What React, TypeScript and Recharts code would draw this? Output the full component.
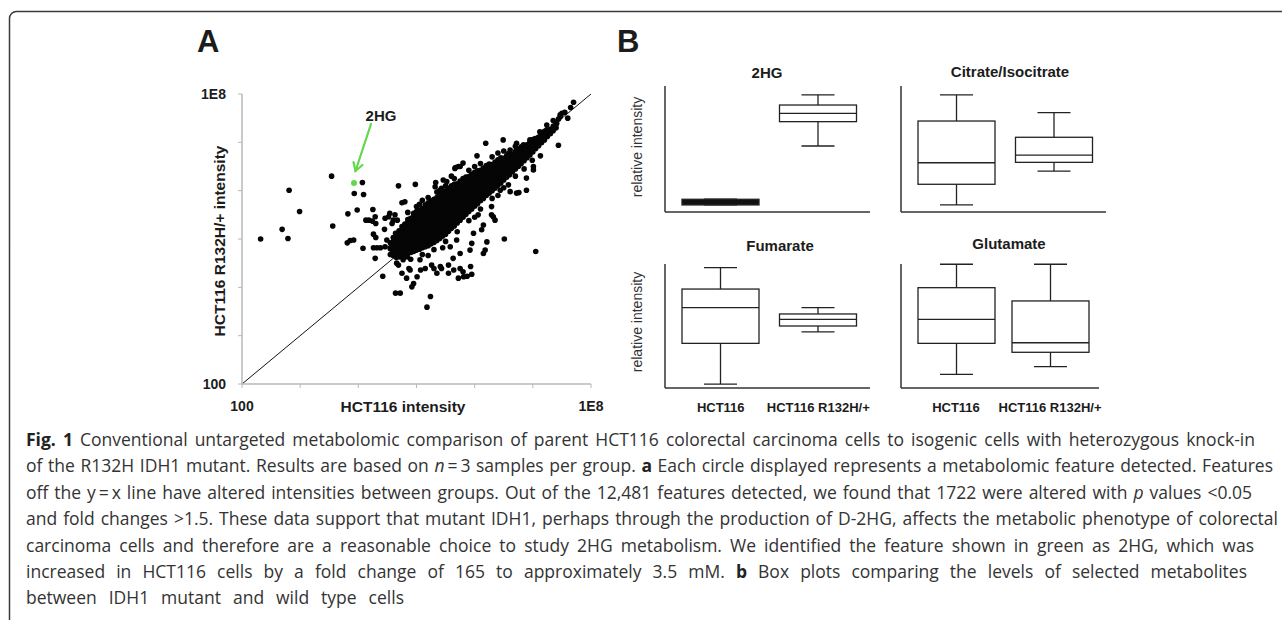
import React, { useLayoutEffect, useRef, useState } from "react";
import { ScatterChart, Scatter, XAxis, YAxis, ReferenceLine, ComposedChart, Bar } from "recharts";

/* ── Panel A: feature intensities, stored as log10 values [HCT116, HCT116 R132H/+] ── */
// dense core of the cloud, listed per x column: [log10 x, log10 y values]
const coreColumns: [number, number[]][] = [
  [4.55, [4.68, 4.8, 4.92]],
  [4.6, [4.66, 4.76, 4.85, 4.94, 5.03]],
  [4.65, [4.62, 4.71, 4.8, 4.89, 4.98, 5.08]],
  [4.7, [4.63, 4.72, 4.81, 4.9, 4.99, 5.08, 5.17]],
  [4.75, [4.64, 4.73, 4.82, 4.91, 5.0, 5.09, 5.18, 5.26]],
  [4.8, [4.68, 4.77, 4.86, 4.95, 5.04, 5.13, 5.22, 5.31]],
  [4.85, [4.7, 4.79, 4.88, 4.97, 5.06, 5.15, 5.24, 5.33, 5.4]],
  [4.9, [4.72, 4.81, 4.9, 4.99, 5.08, 5.17, 5.26, 5.35, 5.43]],
  [4.95, [4.74, 4.83, 4.92, 5.01, 5.1, 5.19, 5.28, 5.37, 5.46, 5.53]],
  [5.0, [4.77, 4.86, 4.95, 5.04, 5.13, 5.22, 5.31, 5.4, 5.49, 5.57]],
  [5.05, [4.79, 4.88, 4.97, 5.06, 5.15, 5.24, 5.33, 5.42, 5.51, 5.6]],
  [5.1, [4.82, 4.91, 5.0, 5.09, 5.18, 5.27, 5.36, 5.45, 5.54, 5.63]],
  [5.15, [4.84, 4.93, 5.02, 5.11, 5.2, 5.29, 5.38, 5.47, 5.56, 5.65, 5.71]],
  [5.2, [4.86, 4.95, 5.04, 5.13, 5.22, 5.31, 5.4, 5.49, 5.58, 5.67, 5.75]],
  [5.25, [4.9, 4.99, 5.08, 5.17, 5.26, 5.35, 5.44, 5.53, 5.62, 5.71, 5.79]],
  [5.3, [4.93, 5.02, 5.11, 5.2, 5.29, 5.38, 5.47, 5.56, 5.65, 5.74, 5.82]],
  [5.35, [4.97, 5.06, 5.15, 5.24, 5.33, 5.42, 5.51, 5.6, 5.69, 5.78, 5.86]],
  [5.4, [5.01, 5.1, 5.19, 5.28, 5.37, 5.46, 5.55, 5.64, 5.73, 5.82, 5.9]],
  [5.45, [5.06, 5.15, 5.24, 5.33, 5.42, 5.51, 5.6, 5.69, 5.78, 5.87, 5.95]],
  [5.5, [5.1, 5.19, 5.28, 5.37, 5.46, 5.55, 5.64, 5.73, 5.82, 5.91, 5.99]],
  [5.55, [5.16, 5.25, 5.34, 5.43, 5.52, 5.61, 5.7, 5.79, 5.88, 5.97, 6.05]],
  [5.6, [5.22, 5.31, 5.4, 5.49, 5.58, 5.67, 5.76, 5.85, 5.94, 6.03, 6.1]],
  [5.65, [5.27, 5.36, 5.45, 5.54, 5.63, 5.72, 5.81, 5.9, 5.99, 6.08, 6.13]],
  [5.7, [5.33, 5.42, 5.51, 5.6, 5.69, 5.78, 5.87, 5.96, 6.05, 6.14]],
  [5.75, [5.39, 5.48, 5.57, 5.66, 5.75, 5.84, 5.93, 6.02, 6.11, 6.2]],
  [5.8, [5.45, 5.54, 5.63, 5.72, 5.81, 5.9, 5.99, 6.08, 6.17, 6.25]],
  [5.85, [5.51, 5.6, 5.69, 5.78, 5.87, 5.96, 6.05, 6.14, 6.23, 6.28]],
  [5.9, [5.57, 5.66, 5.75, 5.84, 5.93, 6.02, 6.11, 6.2, 6.29]],
  [5.95, [5.62, 5.71, 5.8, 5.89, 5.98, 6.07, 6.16, 6.25, 6.34]],
  [6.0, [5.68, 5.77, 5.86, 5.95, 6.04, 6.13, 6.22, 6.31, 6.38]],
  [6.05, [5.73, 5.82, 5.91, 6.0, 6.09, 6.18, 6.27, 6.36, 6.41]],
  [6.1, [5.79, 5.88, 5.97, 6.06, 6.15, 6.24, 6.33, 6.42]],
  [6.15, [5.84, 5.93, 6.02, 6.11, 6.2, 6.29, 6.38, 6.47]],
  [6.2, [5.9, 5.99, 6.08, 6.17, 6.26, 6.35, 6.44, 6.52]],
  [6.25, [5.95, 6.04, 6.13, 6.22, 6.31, 6.4, 6.49, 6.55]],
  [6.3, [6.0, 6.09, 6.18, 6.27, 6.36, 6.45, 6.54]],
  [6.35, [6.05, 6.14, 6.23, 6.32, 6.41, 6.5, 6.59]],
  [6.4, [6.11, 6.2, 6.29, 6.38, 6.47, 6.56, 6.64]],
  [6.45, [6.16, 6.25, 6.34, 6.43, 6.52, 6.61, 6.68]],
  [6.5, [6.22, 6.31, 6.4, 6.49, 6.58, 6.67]],
  [6.55, [6.28, 6.37, 6.46, 6.55, 6.64, 6.72]],
  [6.6, [6.33, 6.42, 6.51, 6.6, 6.69, 6.77]],
  [6.65, [6.39, 6.48, 6.57, 6.66, 6.75]],
  [6.7, [6.45, 6.54, 6.63, 6.72, 6.81]],
  [6.75, [6.5, 6.59, 6.68, 6.77, 6.86]],
  [6.8, [6.56, 6.65, 6.74, 6.83, 6.91]],
  [6.85, [6.62, 6.71, 6.8, 6.89]],
  [6.9, [6.68, 6.77, 6.86, 6.95]],
  [6.95, [6.74, 6.83, 6.92, 7.01]],
  [7.0, [6.8, 6.89, 6.98, 7.06]],
  [7.05, [6.87, 6.96, 7.05]],
  [7.1, [6.93, 7.02, 7.11]],
  [7.15, [6.99, 7.08, 7.17]],
  [7.2, [7.05, 7.14, 7.23]],
  [7.25, [7.12, 7.21]],
  [7.3, [7.18, 7.27]],
  [7.35, [7.24, 7.33]],
  [7.4, [7.3, 7.39]],
];

// loose features around the core
const scatteredPoints: [number, number][] = [
  [2.32, 5.0], [2.69, 5.2], [2.79, 5.01], [2.81, 6.01], [2.99, 5.57], [3.54, 6.3], [3.56, 5.27],
  [4.07, 6.17], [3.93, 5.94], [4.09, 5.92], [3.98, 5.6], [3.82, 5.52], [3.81, 4.92], [3.86, 4.97],
  [3.92, 4.98], [4.08, 4.81], [4.13, 5.39], [4.18, 5.39], [4.24, 5.37], [4.3, 5.32], [4.25, 5.61],
  [4.26, 5.1], [4.3, 5.03], [4.26, 4.82], [4.32, 4.82], [4.38, 4.82], [4.45, 5.2], [4.42, 4.23],
  [4.69, 6.1], [4.55, 4.82], [4.64, 3.88], [4.72, 3.88], [4.75, 5.75], [4.98, 6.13], [5.18, 3.59],
  [5.24, 3.81], [5.33, 6.17], [5.67, 6.48], [5.87, 4.23], [5.95, 4.27], [6.04, 6.72], [6.19, 6.98],
  [6.51, 5.0], [7.05, 4.74], [7.44, 6.94], [7.13, 6.72], [7.96, 8.07], [7.7, 7.83],
  [5.72, 6.5], [5.8, 6.57], [5.43, 6.05], [5.52, 6.19], [5.63, 6.08], [4.8, 5.77], [5.0, 5.67],
  [4.54, 5.53], [4.63, 5.5], [4.29, 5.46], [4.46, 5.43], [4.6, 5.39], [4.46, 4.84], [4.6, 4.91],
  [4.29, 4.6], [4.66, 4.5], [4.77, 4.57], [4.75, 4.29], [4.89, 4.36], [4.83, 4.19], [5.06, 4.57],
  [5.15, 4.39], [5.26, 4.46], [5.35, 4.29], [5.43, 4.39], [5.55, 4.46], [5.63, 4.6], [5.75, 4.7],
  [5.92, 4.77], [5.95, 4.91], [5.58, 4.84], [5.69, 4.98], [5.98, 5.12], [6.12, 5.19], [6.21, 4.94],
  [6.18, 4.77], [6.29, 5.5], [6.35, 5.39], [6.61, 5.98], [6.72, 5.95], [5.8, 4.32], [5.72, 4.19],
  [7.47, 7.57], [7.41, 7.39], [7.24, 7.36], [7.32, 7.26], [7.12, 7.22], [7.21, 7.19], [7.04, 7.08],
  [7.15, 7.05], [6.95, 7.05], [6.84, 6.95], [6.89, 6.84], [6.72, 6.98], [6.78, 6.77], [6.66, 6.7],
  [6.58, 6.77], [7.01, 6.43], [6.89, 6.26], [6.89, 6.01], [6.58, 6.12], [6.44, 6.01], [6.29, 5.67],
  [6.32, 5.46], [6.06, 5.5], [6.15, 5.29], [5.66, 6.46], [5.75, 6.5], [5.46, 6.22], [5.32, 6.08],
  [5.4, 6.01], [6.49, 7.05], [6.61, 6.84], [6.15, 4.7], [6.76, 5.96], [6.99, 6.63], [7.01, 6.5],
  [4.69, 4.46], [4.87, 4.39], [4.95, 4.08], [5.01, 4.22], [5.07, 4.36], [4.92, 4.01], [5.3, 4.39],
  [5.41, 4.43], [5.55, 4.29], [5.64, 4.36], [5.75, 4.39], [5.93, 4.43], [5.81, 4.22], [4.84, 4.63],
  [4.78, 4.77], [4.61, 4.77], [4.58, 4.7], [4.52, 5.46], [4.58, 5.32], [4.64, 5.12], [4.67, 5.39],
  [4.49, 4.98], [4.61, 4.98], [7.47, 7.53], [7.44, 7.48], [7.36, 7.32], [7.24, 7.26], [7.3, 7.19],
  [7.19, 7.12], [7.13, 7.05], [7.5, 7.6], [7.55, 7.62], [7.6, 7.5], [7.35, 7.45], [7.65, 7.72],
  [4.85, 5.55], [5.05, 5.72], [5.2, 5.86], [5.35, 5.97], [5.5, 6.1], [5.65, 6.25], [5.9, 6.42],
  [6.1, 6.56], [6.3, 6.7], [6.5, 6.82], [6.7, 6.92], [5.1, 5.8], [5.6, 6.3], [6.0, 6.5], [6.4, 6.78],
  [4.9, 4.58], [5.1, 4.68], [5.3, 4.78], [5.5, 4.95], [5.7, 5.15], [5.9, 5.38], [6.1, 5.62],
  [6.3, 5.84], [6.5, 6.06], [6.7, 6.3], [5.2, 4.66], [5.45, 4.82], [6.0, 5.45], [6.4, 5.9], [6.85, 6.45],
];

// the feature identified as 2HG
const twoHgFeature: [number, number][] = [[3.925, 6.16]];

const logTicks = [100, 1e3, 1e4, 1e5, 1e6, 1e7, 1e8];

/* ── Panel B: box plots, values as [min, q1, median, q3, max] in relative intensity ── */
const groups = ["HCT116", "HCT116 R132H/+"];
const box2HG = [[5.6, 5.6, 7.8, 10.1, 10.1], [52.4, 71.7, 78.3, 84.9, 92.9]];
const boxCitrate = [[5.6, 22.0, 39.1, 72.2, 92.9], [32.5, 39.4, 45.2, 59.3, 78.8]];
const boxFumarate = [[3.2, 36.0, 64.8, 79.8, 97.0], [45.2, 50.0, 55.4, 59.7, 64.8]];
const boxGlutamate = [[11.0, 36.0, 55.4, 80.9, 99.8], [17.2, 28.8, 36.5, 70.2, 99.8]];

const features = [
  ...coreColumns.flatMap(([lx, ys]) => ys.map((ly) => ({ x: 10 ** lx, y: 10 ** ly }))),
  ...scatteredPoints.map(([lx, ly]) => ({ x: 10 ** lx, y: 10 ** ly })),
];
const greenFeature = twoHgFeature.map(([lx, ly]) => ({ x: 10 ** lx, y: 10 ** ly }));

const toRows = (vals: number[][]) =>
  groups.map((g, i) => ({ group: g, min: vals[i][0], q1: vals[i][1], median: vals[i][2], q3: vals[i][3], max: vals[i][4] }));

const ARIAL = "'Liberation Sans', Arial, sans-serif";
const INK = "#1c1c1c";

const fmtLog = (v: number) => (v === 100 ? "100" : v === 1e8 ? "1E8" : "");

const Dot = (p: any) => <circle cx={p.cx} cy={p.cy} r={2.8} fill="#050505" />;
const GreenDot = (p: any) => <circle cx={p.cx} cy={p.cy} r={3} fill="#62d84a" />;

function BoxShape(props: any) {
  const { x, y, width, height, payload } = props;
  const top = Math.min(y, y + height);
  const h = Math.abs(height);
  const span = payload.max - payload.min || 1;
  const py = (v: number) => top + (h * (payload.max - v)) / span;
  const cx = x + width / 2;
  const cap = 33;
  const yQ3 = py(payload.q3);
  const yQ1 = py(payload.q1);
  const yMed = py(payload.median);
  const solid = yQ1 - yQ3 < 8;
  return (
    <g stroke="#222" strokeWidth={1.3}>
      <line x1={cx} x2={cx} y1={top} y2={yQ3} />
      <line x1={cx} x2={cx} y1={yQ1} y2={top + h} />
      <line x1={cx - cap / 2} x2={cx + cap / 2} y1={top} y2={top} />
      <line x1={cx - cap / 2} x2={cx + cap / 2} y1={top + h} y2={top + h} />
      <rect x={x} y={yQ3} width={width} height={yQ1 - yQ3} fill={solid ? "#111" : "#fff"} />
      {!solid && <line x1={x} x2={x + width} y1={yMed} y2={yMed} />}
    </g>
  );
}

type PanelProps = { vals: number[][]; left: number; top: number; w: number; h: number; padL: number; padR: number; labels: boolean };

function BoxPanel({ vals, left, top, w, h, padL, padR, labels }: PanelProps) {
  return (
    <div style={{ position: "absolute", left: left - 20, top: top - 10 }}>
      <ComposedChart width={w + 40} height={h + 50} data={toRows(vals)} margin={{ top: 10, right: 20, bottom: 0, left: 10 }}>
        <XAxis
          dataKey="group" type="category" height={40} interval={0}
          padding={{ left: padL, right: padR }}
          axisLine={{ stroke: "#333", strokeWidth: 1.5 }} tickLine={false} tickSize={0} tickMargin={15}
          tick={labels ? { fill: INK, fontSize: 13, fontWeight: 700, fontFamily: ARIAL } : false}
        />
        <YAxis type="number" domain={[0, 100]} width={10} axisLine={{ stroke: "#333", strokeWidth: 1.5 }} tick={false} tickLine={false} />
        <Bar dataKey={(d: any) => [d.min, d.max]} barSize={77} shape={BoxShape} isAnimationActive={false} />
      </ComposedChart>
    </div>
  );
}

/* caption line stretched to a set width by widening the word gaps */
function JustifiedLine({ x, y, width, children }: { x: number; y: number; width: number; children: React.ReactNode }) {
  const ref = useRef<SVGTextElement>(null);
  const [ws, setWs] = useState(0);
  useLayoutEffect(() => {
    const el = ref.current;
    if (!el) return;
    const natural = el.getComputedTextLength();
    const spaces = (el.textContent || "").split(" ").length - 1;
    if (spaces > 0) setWs((width - natural) / spaces);
  }, [width]);
  return (
    <text ref={ref} x={x} y={y} style={{ wordSpacing: `${ws}px` }}>
      {children}
    </text>
  );
}

export default function App() {
  const axisTick = { fill: INK, fontSize: 14, fontWeight: 700, fontFamily: ARIAL };
  const capX = 26;
  const base = 446;
  const lh = 26.4;
  return (
    <div style={{ position: "absolute", left: 0, top: 0, width: 1282, height: 620, background: "#fff", overflow: "hidden" }}>
      {/* A: scatter */}
      <div style={{ position: "absolute", left: 0, top: 0 }}>
        <ScatterChart width={620} height={430} margin={{ top: 94, right: 29, bottom: 16, left: 182 }}>
          <XAxis
            type="number" dataKey="x" scale="log" domain={[100, 1e8]} ticks={logTicks} interval={0}
            tickFormatter={fmtLog} height={30} allowDataOverflow
            axisLine={{ stroke: "#b8b8b8", strokeWidth: 1.5 }} tickLine={{ stroke: "#b8b8b8" }}
            tickSize={4} tickMargin={13} tick={axisTick}
          />
          <YAxis
            type="number" dataKey="y" scale="log" domain={[100, 1e8]} ticks={logTicks} interval={0}
            tickFormatter={fmtLog} width={60} allowDataOverflow
            axisLine={{ stroke: "#b8b8b8", strokeWidth: 1.5 }} tickLine={{ stroke: "#b8b8b8" }}
            tickSize={4} tickMargin={12} tick={axisTick}
          />
          <ReferenceLine segment={[{ x: 100, y: 100 }, { x: 1e8, y: 1e8 }]} stroke="#111" strokeWidth={1} />
          <Scatter data={features} shape={Dot} isAnimationActive={false} />
          <Scatter data={greenFeature} shape={GreenDot} isAnimationActive={false} />
        </ScatterChart>
      </div>

      {/* B: box plots */}
      <BoxPanel vals={box2HG} left={665} top={86} w={205} h={126} padL={7} padR={3} labels={false} />
      <BoxPanel vals={boxCitrate} left={901} top={86} w={205} h={126} padL={7} padR={3} labels={false} />
      <BoxPanel vals={boxFumarate} left={665} top={264} w={205} h={124} padL={7} padR={3} labels />
      <BoxPanel vals={boxGlutamate} left={901} top={264} w={198} h={124} padL={8} padR={2} labels />

      {/* titles, annotations, caption */}
      <svg width={1282} height={620} style={{ position: "absolute", left: 0, top: 0, pointerEvents: "none" }}>
        <rect x={9.5} y={11.5} width={1400} height={700} rx={7} fill="none" stroke="#3a3a3a" strokeWidth={1.5} />
        <g fontFamily={ARIAL} fill={INK} fontWeight={700}>
          <text x={197} y={52} fontSize={31}>A</text>
          <text x={617} y={52} fontSize={31}>B</text>
          <text x={381} y={121} fontSize={15} textAnchor="middle">2HG</text>
          <text x={403} y={411.5} fontSize={15.5} textAnchor="middle">HCT116 intensity</text>
          <text transform="translate(225,241) rotate(-90)" fontSize={15.5} textAnchor="middle">HCT116 R132H/+ intensity</text>
          <text x={767} y={78} fontSize={15} textAnchor="middle">2HG</text>
          <text x={1010} y={77} fontSize={15} textAnchor="middle">Citrate/Isocitrate</text>
          <text x={780} y={251} fontSize={15} textAnchor="middle">Fumarate</text>
          <text x={1009} y={249} fontSize={15} textAnchor="middle">Glutamate</text>
        </g>
        <g fontFamily={ARIAL} fill="#333" fontSize={14}>
          <text transform="translate(642,147) rotate(-90)" textAnchor="middle">relative intensity</text>
          <text transform="translate(642,322) rotate(-90)" textAnchor="middle">relative intensity</text>
        </g>
        <g stroke="#62d84a" strokeWidth={2.2} fill="none" strokeLinecap="round">
          <line x1={371} y1={124} x2={355.5} y2={171} />
          <polyline points="353.5,162 355.5,171 362.5,165" />
        </g>
        <g fontFamily="'Open Sans', 'Noto Sans', sans-serif" fontSize={17.5} fill="#333">
          <JustifiedLine x={capX} y={base} width={1229}>
            <tspan fontWeight={700} fill="#222">Fig. 1</tspan> Conventional untargeted metabolomic comparison of parent HCT116 colorectal carcinoma cells to isogenic cells with heterozygous knock-in
          </JustifiedLine>
          <JustifiedLine x={capX} y={base + lh} width={1247}>
            of the R132H IDH1 mutant. Results are based on <tspan fontStyle="italic">n</tspan>{"\u2009=\u20093"} samples per group. <tspan fontWeight={700} fill="#222">a</tspan> Each circle displayed represents a metabolomic feature detected. Features
          </JustifiedLine>
          <JustifiedLine x={capX} y={base + lh * 2} width={1226}>
            {"off the y\u2009=\u2009x line have altered intensities between groups. Out of the 12,481 features detected, we found that 1722 were altered with "}<tspan fontStyle="italic">p</tspan> values {"<0.05"}
          </JustifiedLine>
          <JustifiedLine x={capX} y={base + lh * 3} width={1252}>
            {"and fold changes >1.5. These data support that mutant IDH1, perhaps through the production of D-2HG, affects the metabolic phenotype of colorectal"}
          </JustifiedLine>
          <JustifiedLine x={capX} y={base + lh * 4} width={1228}>
            carcinoma cells and therefore are a reasonable choice to study 2HG metabolism. We identified the feature shown in green as 2HG, which was
          </JustifiedLine>
          <JustifiedLine x={capX} y={base + lh * 5} width={1221}>
            increased in HCT116 cells by a fold change of 165 to approximately 3.5 mM. <tspan fontWeight={700} fill="#222">b</tspan> Box plots comparing the levels of selected metabolites
          </JustifiedLine>
          <JustifiedLine x={capX} y={base + lh * 6} width={378}>
            between IDH1 mutant and wild type cells
          </JustifiedLine>
        </g>
      </svg>
    </div>
  );
}
